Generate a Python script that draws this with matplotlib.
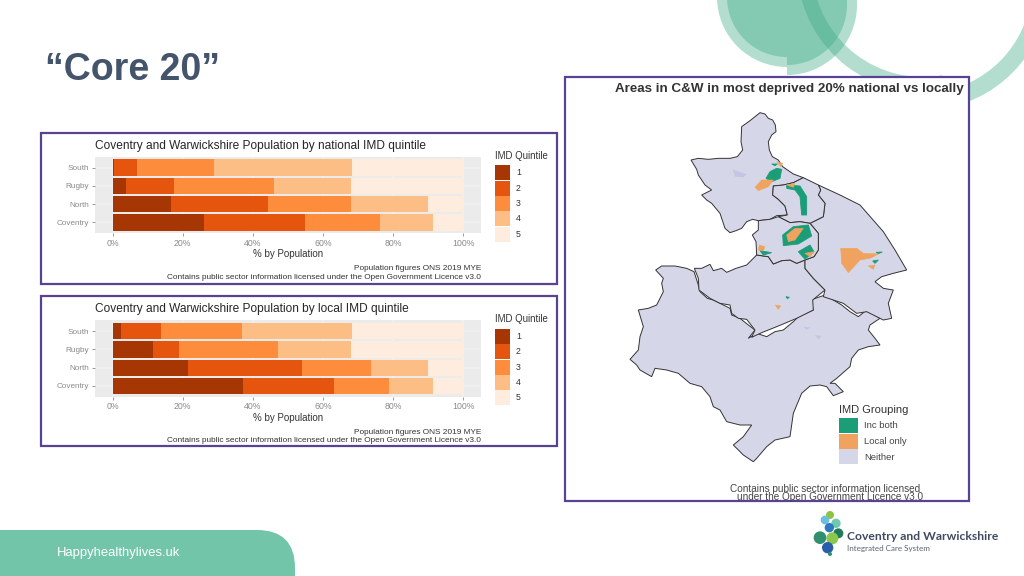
import matplotlib
matplotlib.use("Agg")
import matplotlib.pyplot as plt
from matplotlib.patches import Circle, Polygon, Rectangle, Wedge, FancyBboxPatch

plt.rcParams['font.family'] = ['Liberation Sans', 'DejaVu Sans']

# bar chart data, shares of population per quintile
areas = ["Coventry", "North", "Rugby", "South"]
quintiles = ["1", "2", "3", "4", "5"]
quintile_colours = ["#a63603", "#e6550d", "#fd8d3c", "#fdbe85", "#feedde"]
national_q1 = [26.1, 16.8, 3.8, 0.5]
national_q2 = [28.7, 27.6, 13.6, 6.5]
national_q3 = [21.5, 23.5, 28.6, 22.0]
national_q4 = [15.2, 22.1, 22.0, 39.3]
national_q5 = [8.5, 10.0, 32.0, 31.7]
local_q1 = [37.2, 21.6, 11.5, 2.4]
local_q2 = [26.1, 32.3, 7.5, 11.4]
local_q3 = [15.5, 19.7, 28.2, 23.1]
local_q4 = [12.7, 16.4, 20.8, 31.4]
local_q5 = [8.5, 10.0, 32.0, 31.7]
pct_ticks = [0, 20, 40, 60, 80, 100]
pct_labels = ["0%", "20%", "40%", "60%", "80%", "100%"]

north_warks = [(390,38),(405,42),(415,55),(428,60),(436,75),(438,95),(425,105),(415,125),(418,150),(427,170),(445,180),(458,200),(490,222),(520,233),(490,248),(460,255),(430,258),(428,285),(445,298),(465,318),(472,345),(440,347),(420,358),(385,362),(368,358),(350,365),(335,385),(318,392),(300,398),(285,385),(270,340),(245,310),(230,300),(215,285),(245,270),(225,255),(205,225),(200,208),(183,180),(205,175),(235,178),(265,175),(300,175),(322,170),(338,150),(333,125),(335,80),(360,62)]
nuneaton = [(520,233),(565,255),(572,270),(565,285),(585,310),(580,350),(540,370),(510,365),(480,368),(445,350),(472,345),(465,318),(445,298),(428,285),(430,258),(460,255),(490,248)]
rugby = [(565,255),(630,285),(690,315),(725,355),(760,395),(795,450),(830,510),(790,520),(755,530),(735,545),(760,565),(790,570),(775,610),(785,655),(760,660),(730,645),(710,635),(680,640),(640,610),(580,590),(585,570),(550,535),(525,505),(525,480),(552,470),(565,450),(565,400),(540,370),(580,350),(585,310),(565,285),(572,270)]
coventry = [(385,362),(420,358),(445,350),(480,368),(510,365),(540,370),(565,400),(565,450),(552,470),(525,480),(500,490),(480,480),(455,482),(430,492),(415,470),(380,465),(378,425),(367,405),(385,390)]
warwick = [(193,505),(215,505),(240,493),(250,512),(275,505),(290,517),(318,505),(350,495),(365,480),(380,465),(415,470),(430,492),(455,482),(480,480),(500,490),(525,480),(525,505),(550,535),(585,570),(548,600),(550,630),(500,655),(440,680),(395,698),(365,712),(375,690),(350,658),(325,655),(305,640),(300,615),(270,610),(240,595),(207,570),(205,535)]
# this one comes from the lower crop
stratford = [(107,60),(125,48),(165,48),(200,55),(222,65),(235,105),(240,125),(262,145),(280,150),(310,165),(330,175),(335,195),(360,205),(385,225),(405,240),(385,265),(410,250),(440,260),(465,245),(490,240),(520,215),(535,200),(580,180),(572,150),(615,135),(640,150),(665,165),(690,185),(715,200),(740,180),(780,205),(750,225),(745,240),(765,265),(780,285),(745,290),(715,300),(695,325),(690,350),(650,385),(630,400),(645,400),(670,425),(640,437),(620,410),(600,405),(570,408),(545,430),(520,490),(510,560),(465,570),(440,590),(410,625),(400,635),(370,615),(340,585),(370,560),(395,525),(360,525),(320,515),(300,480),(280,470),(270,440),(245,410),(210,400),(175,370),(140,360),(105,355),(95,380),(60,360),(50,345),(30,328),(55,300),(60,260),(70,230),(55,180),(85,175),(110,165),(130,125),(125,100),(130,85)]

green_blobs = [
    [(408,235),(420,215),(440,205),(455,208),(450,235),(425,245)],
    [(470,255),(510,258),(530,290),(530,345),(515,345),(510,290),(495,270),(470,265)],
    [(458,405),(490,380),(535,375),(545,408),(505,432),(460,437)],
    [(390,452),(425,458),(400,465)],
    [(505,455),(540,435),(552,455),(525,478)],
    [(728,483),(745,480),(735,490)],
    [(738,457),(757,456),(745,461)],
    [(468,590),(478,592),(472,596)],
    [(425,192),(442,192),(435,197)],
]
orange_blobs = [
    [(375,262),(395,240),(430,240),(415,260),(385,272)],
    [(440,185),(458,190),(452,200)],
    [(470,405),(495,385),(520,385),(495,420),(475,425)],
    [(388,435),(405,440),(400,452),(385,450)],
    [(525,460),(552,455),(540,470)],
    [(632,445),(680,445),(700,460),(745,462),(720,475),(690,480),(655,518),(635,490)],
    [(715,498),(735,495),(730,508)],
    [(436,615),(452,618),(445,628)],
    [(470,255),(495,250),(490,262)],
]
shade_blobs = [[(308,208),(325,215),(350,222),(340,232),(315,230)],
               [(520,680),(540,682),(530,690)],
               [(555,705),(575,708),(565,718)]]

map_colours = ["#1b9e77", "#f0a35e", "#d6d6e9"]
map_groups = ["Inc both", "Local only", "Neither"]


def upper(pts):
    return [(630 + x / 3, 100 + y / 3) for x, y in pts]


def lower(pts):
    return [(620 + x / 3, 250 + y / 3) for x, y in pts]


def frame(ax, x0, y0, x1, y1):
    ax.add_patch(Rectangle((x0, y0), x1 - x0, y1 - y0, fc="white", ec="#5a4292", lw=1.6, zorder=5))


def bar_panel(bg, top, title, values):
    # panel position comes in slide pixels
    ax = fig.add_axes([95 / 1024, 1 - (top + 76.6) / 576, 385.7 / 1024, 76.6 / 576], zorder=10)
    ax.set_facecolor("#ebebeb")
    ax.grid(color="white", lw=0.3)
    ax.set_axisbelow(True)
    left = [0, 0, 0, 0]
    for vals, col in zip(values, quintile_colours):
        ax.barh(areas, vals, left=left, height=0.9, color=col)
        left = [a + b for a, b in zip(left, vals)]
    ax.set_xlim(-5, 105)
    ax.set_ylim(-0.6, 3.6)
    ax.set_xticks(pct_ticks)
    ax.set_xticklabels(pct_labels)
    ax.tick_params(colors="#8a8a8a", labelsize=6.3, length=2, width=0.6, pad=2)
    ax.tick_params(axis="y", labelsize=5.9)
    for s in ax.spines.values():
        s.set_visible(False)
    bg.text(95, top - 11, title, fontsize=8.55, color="#262626", va="center", zorder=12)
    bg.text(288, top + 97.5, "% by Population", fontsize=7, color="#333333", ha="center", va="center", zorder=12)
    bg.text(481, top + 112, "Population figures ONS 2019 MYE", fontsize=5.95, color="#333333", ha="right", va="center", zorder=12)
    bg.text(481, top + 120.5, "Contains public sector information licensed under the Open Government Licence v3.0",
            fontsize=5.95, color="#333333", ha="right", va="center", zorder=12)
    bg.text(495, top - 1, "IMD Quintile", fontsize=6.9, color="#333333", va="center", zorder=12)
    for i, (q, col) in enumerate(zip(quintiles, quintile_colours)):
        bg.add_patch(Rectangle((495, top + 8.5 + i * 15.4), 15.2, 15.0, fc=col, ec="none", zorder=12))
        bg.text(516, top + 16 + i * 15.4, q, fontsize=6.3, color="#333333", va="center", zorder=12)


fig = plt.figure(figsize=(10.24, 5.76), dpi=100)
bg = fig.add_axes([0, 0, 1, 1])
bg.set_xlim(0, 1024)
bg.set_ylim(576, 0)
bg.axis("off")

# decoration top right
teal = "#3fab88"
for cy, t1, t2 in [(-3, 90, 270), (5, -90, 90)]:
    bg.add_patch(Wedge((787, cy), 70, t1, t2, fc=teal, alpha=0.4, ec="none"))
    bg.add_patch(Wedge((787, cy), 60, t1, t2, fc=teal, alpha=0.4, ec="none"))
bg.add_patch(Wedge((923, -34), 126, 80, 270, width=15, fc=teal, alpha=0.4, ec="none"))
bg.add_patch(Wedge((923, -16), 126, 0, 80, width=17, fc=teal, alpha=0.4, ec="none"))

# footer band
bg.add_patch(FancyBboxPatch((-60, 530), 355, 120, boxstyle="round,pad=0,rounding_size=38", fc="#72c5a9", ec="none"))
bg.text(57, 553, "Happyhealthylives.uk", fontsize=9.4, color="white", va="center")

bg.text(45, 70, "\u201cCore 20\u201d", fontsize=27, fontweight="bold", color="#44546a", va="center")

frame(bg, 41, 133, 557, 284)
frame(bg, 41, 296, 557, 446)
frame(bg, 565, 77, 969, 501)

bar_panel(bg, 156.7, "Coventry and Warwickshire Population by national IMD quintile",
          [national_q1, national_q2, national_q3, national_q4, national_q5])
bar_panel(bg, 320.3, "Coventry and Warwickshire Population by local IMD quintile",
          [local_q1, local_q2, local_q3, local_q4, local_q5])

# map
bg.text(615, 89, "Areas in C&W in most deprived 20% national vs locally", fontsize=9.65, fontweight="bold",
        color="#333333", va="center", zorder=8)
for poly in [lower(stratford), upper(warwick), upper(rugby), upper(north_warks), upper(nuneaton), upper(coventry)]:
    bg.add_patch(Polygon(poly, closed=True, fc=map_colours[2], ec="#333333", lw=0.7, zorder=6))
for b in green_blobs:
    bg.add_patch(Polygon(upper(b), closed=True, fc=map_colours[0], ec=map_colours[0], lw=0.6, zorder=7))
for b in orange_blobs:
    bg.add_patch(Polygon(upper(b), closed=True, fc=map_colours[1], ec=map_colours[1], lw=0.4, zorder=7.5))
for b in shade_blobs:
    bg.add_patch(Polygon(upper(b), closed=True, fc="#c5c5e3", ec="none", zorder=7))

bg.text(839, 410, "IMD Grouping", fontsize=8, color="#333333", va="center", zorder=8)
for i, (name, col) in enumerate(zip(map_groups, map_colours)):
    bg.add_patch(Rectangle((839, 418 + i * 15.5), 19, 15, fc=col, ec="none", zorder=8))
    bg.text(864, 426 + i * 15.5, name, fontsize=6.8, color="#444444", va="center", zorder=8)
bg.text(825, 488.5, "Contains public sector information licensed", fontsize=7.2, color="#444444", ha="center", va="center", zorder=8)
bg.text(830, 496.5, "under the Open Government Licence v3.0", fontsize=7.2, color="#444444", ha="center", va="center", zorder=8)

# logo
logo = [(90, 30, 12, "#8cc63f"), (75, 45, 13, "#6bbfe0"), (108, 55, 14, "#6fc9b0"), (88, 68, 14, "#2f79c0"),
        (115, 85, 15, "#1f7a5a"), (60, 98, 19, "#2f8f70"), (97, 100, 18, "#8cc84b"), (83, 128, 17, "#2b5ea8"),
        (90, 147, 6, "#2f8f70")]
for x, y, r, col in logo:
    bg.add_patch(Circle((800 + x / 3, 505 + y / 3), r / 3, fc=col, ec="none"))
bg.text(847, 536.5, "Coventry and Warwickshire", fontsize=8.7, color="#3f4a63", family="Lato", fontweight="bold", va="center")
bg.text(847, 549, "Integrated Care System", fontsize=5.8, color="#5a6272", family="Lato", va="center")

plt.savefig("out.png", dpi=100)
